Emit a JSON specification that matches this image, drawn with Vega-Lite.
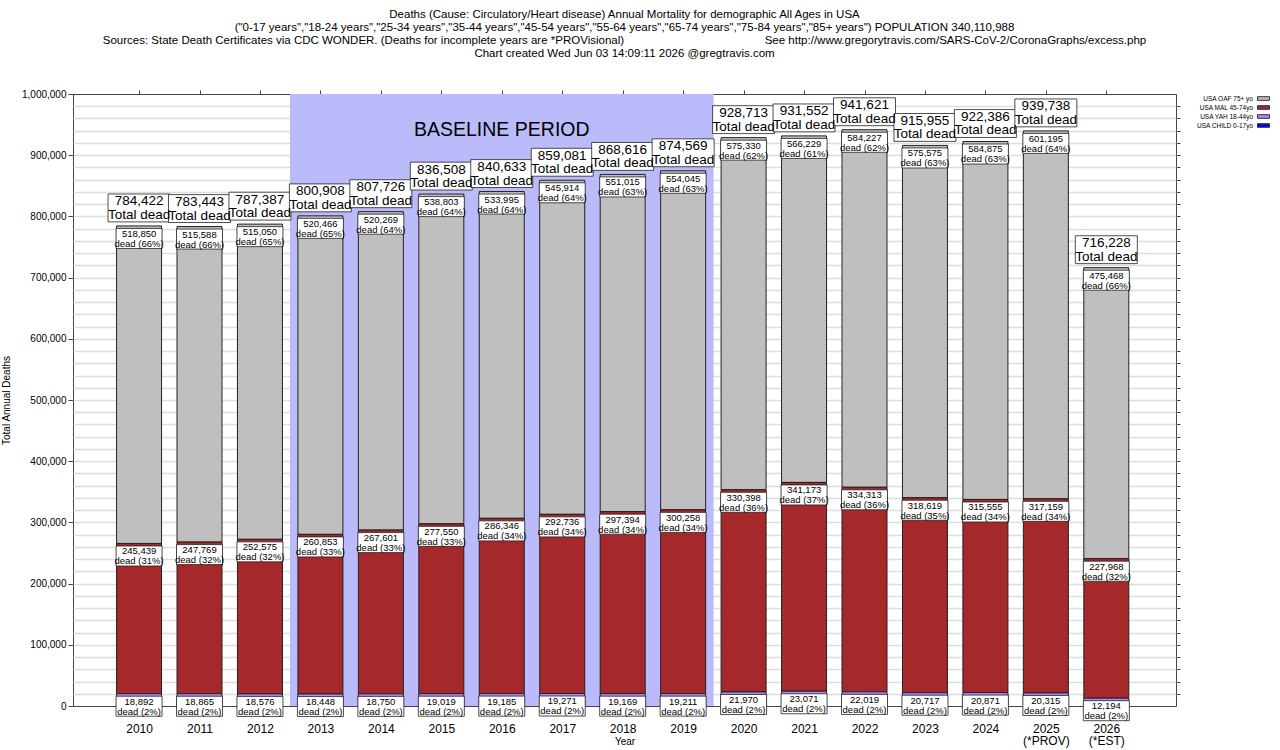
{
  "$schema": "https://vega.github.io/schema/vega-lite/v6.json",
  "width": 1103,
  "height": 612,
  "padding": {"left": 1, "top": 8, "right": 5, "bottom": 2},
  "config": {
    "font": "Liberation Sans",
    "view": {"stroke": "#444", "strokeWidth": 1},
    "axis": {"labelColor": "black", "titleColor": "black", "titleFontWeight": "normal", "domainColor": "#444", "tickColor": "#444"}
  },
  "title": {
    "text": [
      "Deaths (Cause: Circulatory/Heart disease) Annual Mortality for demographic All Ages in USA",
      "(\"0-17 years\",\"18-24 years\",\"25-34 years\",\"35-44 years\",\"45-54 years\",\"55-64 years\",\"65-74 years\",\"75-84 years\",\"85+ years\") POPULATION 340,110,988",
      "Sources: State Death Certificates via CDC WONDER. (Deaths for incomplete years are *PROVisional)\u00a0\u00a0\u00a0\u00a0\u00a0\u00a0\u00a0\u00a0\u00a0\u00a0\u00a0\u00a0\u00a0\u00a0\u00a0\u00a0\u00a0\u00a0\u00a0\u00a0\u00a0\u00a0\u00a0\u00a0\u00a0\u00a0\u00a0\u00a0\u00a0\u00a0\u00a0\u00a0\u00a0\u00a0\u00a0\u00a0\u00a0\u00a0\u00a0\u00a0\u00a0\u00a0\u00a0\u00a0See http://www.gregorytravis.com/SARS-CoV-2/CoronaGraphs/excess.php",
      "Chart created Wed Jun 03 14:09:11 2026 @gregtravis.com"
    ],
    "fontSize": 11.5,
    "fontWeight": "normal",
    "lineHeight": 13,
    "offset": 30,
    "color": "black"
  },
  "datasets": {
    "deaths": [
      {"year": 2010, "group": "USA OAF 75+ yo", "deaths": 518850, "pct": 66},
      {"year": 2010, "group": "USA MAL 45-74yo", "deaths": 245439, "pct": 31},
      {"year": 2010, "group": "USA YAH 18-44yo", "deaths": 18892, "pct": 2},
      {"year": 2010, "group": "USA CHILD 0-17yo", "deaths": 1241, "pct": 0},
      {"year": 2011, "group": "USA OAF 75+ yo", "deaths": 515588, "pct": 66},
      {"year": 2011, "group": "USA MAL 45-74yo", "deaths": 247769, "pct": 32},
      {"year": 2011, "group": "USA YAH 18-44yo", "deaths": 18865, "pct": 2},
      {"year": 2011, "group": "USA CHILD 0-17yo", "deaths": 1221, "pct": 0},
      {"year": 2012, "group": "USA OAF 75+ yo", "deaths": 515050, "pct": 65},
      {"year": 2012, "group": "USA MAL 45-74yo", "deaths": 252575, "pct": 32},
      {"year": 2012, "group": "USA YAH 18-44yo", "deaths": 18576, "pct": 2},
      {"year": 2012, "group": "USA CHILD 0-17yo", "deaths": 1186, "pct": 0},
      {"year": 2013, "group": "USA OAF 75+ yo", "deaths": 520466, "pct": 65},
      {"year": 2013, "group": "USA MAL 45-74yo", "deaths": 260853, "pct": 33},
      {"year": 2013, "group": "USA YAH 18-44yo", "deaths": 18448, "pct": 2},
      {"year": 2013, "group": "USA CHILD 0-17yo", "deaths": 1141, "pct": 0},
      {"year": 2014, "group": "USA OAF 75+ yo", "deaths": 520269, "pct": 64},
      {"year": 2014, "group": "USA MAL 45-74yo", "deaths": 267601, "pct": 33},
      {"year": 2014, "group": "USA YAH 18-44yo", "deaths": 18750, "pct": 2},
      {"year": 2014, "group": "USA CHILD 0-17yo", "deaths": 1106, "pct": 0},
      {"year": 2015, "group": "USA OAF 75+ yo", "deaths": 538803, "pct": 64},
      {"year": 2015, "group": "USA MAL 45-74yo", "deaths": 277550, "pct": 33},
      {"year": 2015, "group": "USA YAH 18-44yo", "deaths": 19019, "pct": 2},
      {"year": 2015, "group": "USA CHILD 0-17yo", "deaths": 1136, "pct": 0},
      {"year": 2016, "group": "USA OAF 75+ yo", "deaths": 533995, "pct": 64},
      {"year": 2016, "group": "USA MAL 45-74yo", "deaths": 286346, "pct": 34},
      {"year": 2016, "group": "USA YAH 18-44yo", "deaths": 19185, "pct": 2},
      {"year": 2016, "group": "USA CHILD 0-17yo", "deaths": 1107, "pct": 0},
      {"year": 2017, "group": "USA OAF 75+ yo", "deaths": 545914, "pct": 64},
      {"year": 2017, "group": "USA MAL 45-74yo", "deaths": 292736, "pct": 34},
      {"year": 2017, "group": "USA YAH 18-44yo", "deaths": 19271, "pct": 2},
      {"year": 2017, "group": "USA CHILD 0-17yo", "deaths": 1160, "pct": 0},
      {"year": 2018, "group": "USA OAF 75+ yo", "deaths": 551015, "pct": 63},
      {"year": 2018, "group": "USA MAL 45-74yo", "deaths": 297394, "pct": 34},
      {"year": 2018, "group": "USA YAH 18-44yo", "deaths": 19169, "pct": 2},
      {"year": 2018, "group": "USA CHILD 0-17yo", "deaths": 1038, "pct": 0},
      {"year": 2019, "group": "USA OAF 75+ yo", "deaths": 554045, "pct": 63},
      {"year": 2019, "group": "USA MAL 45-74yo", "deaths": 300258, "pct": 34},
      {"year": 2019, "group": "USA YAH 18-44yo", "deaths": 19211, "pct": 2},
      {"year": 2019, "group": "USA CHILD 0-17yo", "deaths": 1055, "pct": 0},
      {"year": 2020, "group": "USA OAF 75+ yo", "deaths": 575330, "pct": 62},
      {"year": 2020, "group": "USA MAL 45-74yo", "deaths": 330398, "pct": 36},
      {"year": 2020, "group": "USA YAH 18-44yo", "deaths": 21970, "pct": 2},
      {"year": 2020, "group": "USA CHILD 0-17yo", "deaths": 1015, "pct": 0},
      {"year": 2021, "group": "USA OAF 75+ yo", "deaths": 566229, "pct": 61},
      {"year": 2021, "group": "USA MAL 45-74yo", "deaths": 341173, "pct": 37},
      {"year": 2021, "group": "USA YAH 18-44yo", "deaths": 23071, "pct": 2},
      {"year": 2021, "group": "USA CHILD 0-17yo", "deaths": 1079, "pct": 0},
      {"year": 2022, "group": "USA OAF 75+ yo", "deaths": 584227, "pct": 62},
      {"year": 2022, "group": "USA MAL 45-74yo", "deaths": 334313, "pct": 36},
      {"year": 2022, "group": "USA YAH 18-44yo", "deaths": 22019, "pct": 2},
      {"year": 2022, "group": "USA CHILD 0-17yo", "deaths": 1062, "pct": 0},
      {"year": 2023, "group": "USA OAF 75+ yo", "deaths": 575575, "pct": 63},
      {"year": 2023, "group": "USA MAL 45-74yo", "deaths": 318619, "pct": 35},
      {"year": 2023, "group": "USA YAH 18-44yo", "deaths": 20717, "pct": 2},
      {"year": 2023, "group": "USA CHILD 0-17yo", "deaths": 1044, "pct": 0},
      {"year": 2024, "group": "USA OAF 75+ yo", "deaths": 584875, "pct": 63},
      {"year": 2024, "group": "USA MAL 45-74yo", "deaths": 315555, "pct": 34},
      {"year": 2024, "group": "USA YAH 18-44yo", "deaths": 20871, "pct": 2},
      {"year": 2024, "group": "USA CHILD 0-17yo", "deaths": 1085, "pct": 0},
      {"year": 2025, "group": "USA OAF 75+ yo", "deaths": 601195, "pct": 64},
      {"year": 2025, "group": "USA MAL 45-74yo", "deaths": 317159, "pct": 34},
      {"year": 2025, "group": "USA YAH 18-44yo", "deaths": 20315, "pct": 2},
      {"year": 2025, "group": "USA CHILD 0-17yo", "deaths": 1069, "pct": 0},
      {"year": 2026, "group": "USA OAF 75+ yo", "deaths": 475468, "pct": 66},
      {"year": 2026, "group": "USA MAL 45-74yo", "deaths": 227968, "pct": 32},
      {"year": 2026, "group": "USA YAH 18-44yo", "deaths": 12194, "pct": 2},
      {"year": 2026, "group": "USA CHILD 0-17yo", "deaths": 598, "pct": 0}
    ],
    "baseline": [
      {"start": 2013, "end": 2019, "label": "BASELINE PERIOD"}
    ]
  },
  "layer": [
    {
      "data": {"name": "baseline"},
      "mark": {"type": "rect", "color": "#bbbbfb", "xOffset": -30.5, "x2Offset": 30.5},
      "encoding": {
        "x": {
          "field": "start", "type": "quantitative",
          "scale": {"domain": [2008.99, 2027.07], "nice": false, "zero": false},
          "axis": {"orient": "top", "values": [2010, 2011, 2012, 2013, 2014, 2015, 2016, 2017, 2018, 2019, 2020, 2021, 2022, 2023, 2024, 2025, 2026], "labels": false, "title": null, "grid": false, "domain": false, "tickSize": 4}
        },
        "x2": {"field": "end"},
        "y": {
          "datum": 1000000, "type": "quantitative",
          "scale": {"domain": [0, 1000000], "nice": false},
          "axis": {"orient": "right", "values": [20000, 40000, 60000, 80000, 100000, 120000, 140000, 160000, 180000, 200000, 220000, 240000, 260000, 280000, 300000, 320000, 340000, 360000, 380000, 400000, 420000, 440000, 460000, 480000, 500000, 520000, 540000, 560000, 580000, 600000, 620000, 640000, 660000, 680000, 700000, 720000, 740000, 760000, 780000, 800000, 820000, 840000, 860000, 880000, 900000, 920000, 940000, 960000, 980000], "labels": false, "title": null, "grid": true, "gridColor": "#dddddd", "gridWidth": 1.5, "domain": false, "tickSize": 4}
        },
        "y2": {"datum": 0}
      }
    },
    {
      "data": {"name": "baseline"},
      "mark": {"type": "text", "fontSize": 19.5, "color": "black", "baseline": "middle"},
      "encoding": {
        "x": {"datum": 2016, "type": "quantitative", "axis": null},
        "y": {"datum": 941000, "type": "quantitative", "axis": null},
        "text": {"field": "label"}
      }
    },
    {
      "data": {"name": "deaths"},
      "transform": [
        {"calculate": "indexof(['USA CHILD 0-17yo', 'USA YAH 18-44yo', 'USA MAL 45-74yo', 'USA OAF 75+ yo'], datum.group)", "as": "rank"}
      ],
      "mark": {"type": "bar", "width": 45, "stroke": "#222", "strokeWidth": 1},
      "encoding": {
        "x": {
          "field": "year", "type": "quantitative", "title": "Year",
          "axis": {
            "orient": "bottom",
            "values": [2010, 2011, 2012, 2013, 2014, 2015, 2016, 2017, 2018, 2019, 2020, 2021, 2022, 2023, 2024, 2025, 2026],
            "format": "d",
            "labelExpr": "datum.value == 2025 ? ['2025', '(*PROV)'] : datum.value == 2026 ? ['2026', '(*EST)'] : datum.label",
            "labelFontSize": 12, "labelPadding": 17, "labelLineHeight": 12,
            "titleFontSize": 10, "titleY": 35, "titleBaseline": "middle",
            "grid": false, "tickSize": 0, "domain": false
          }
        },
        "y": {
          "field": "deaths", "type": "quantitative", "stack": "zero", "title": "Total Annual Deaths",
          "axis": {
            "orient": "left",
            "values": [0, 100000, 200000, 300000, 400000, 500000, 600000, 700000, 800000, 900000, 1000000],
            "format": ",.0f",
            "labelFontSize": 10, "titleFontSize": 10, "titlePadding": 10,
            "grid": false, "tickSize": 5, "domain": false
          }
        },
        "color": {
          "field": "group", "type": "nominal",
          "scale": {
            "domain": ["USA OAF 75+ yo", "USA MAL 45-74yo", "USA YAH 18-44yo", "USA CHILD 0-17yo"],
            "range": ["#bfbfbf", "#a5292a", "#b087f7", "#0000ff"]
          },
          "legend": {
            "orient": "none", "legendX": 1186, "legendY": 0, "title": null,
            "labelFontSize": 6.5, "labelColor": "black", "labelAlign": "right", "labelOffset": -15,
            "symbolType": "M-1.5,-0.45H1.5V0.45H-1.5Z", "symbolSize": 64,
            "symbolStrokeColor": "#333", "symbolStrokeWidth": 1, "symbolOpacity": 1,
            "rowPadding": -1, "padding": 0
          }
        },
        "order": {"field": "rank", "type": "quantitative"}
      }
    },
    {
      "data": {"name": "deaths"},
      "transform": [
        {"calculate": "indexof(['USA CHILD 0-17yo', 'USA YAH 18-44yo', 'USA MAL 45-74yo', 'USA OAF 75+ yo'], datum.group)", "as": "rank"},
        {"stack": "deaths", "groupby": ["year"], "sort": [{"field": "rank", "order": "ascending"}], "as": ["lo", "hi"]},
        {"filter": "datum.group != 'USA CHILD 0-17yo'"}
      ],
      "mark": {"type": "point", "shape": "M-1,0.11H1V0.98H-1Z", "size": 2116, "filled": true, "fill": "white", "stroke": "#222", "strokeWidth": 0.8, "opacity": 1},
      "encoding": {
        "x": {"field": "year", "type": "quantitative", "axis": null},
        "y": {"field": "hi", "type": "quantitative", "axis": null}
      }
    },
    {
      "data": {"name": "deaths"},
      "transform": [
        {"calculate": "indexof(['USA CHILD 0-17yo', 'USA YAH 18-44yo', 'USA MAL 45-74yo', 'USA OAF 75+ yo'], datum.group)", "as": "rank"},
        {"stack": "deaths", "groupby": ["year"], "sort": [{"field": "rank", "order": "ascending"}], "as": ["lo", "hi"]},
        {"filter": "datum.group != 'USA CHILD 0-17yo'"},
        {"calculate": "[format(datum.deaths, ','), 'dead (' + datum.pct + '%)']", "as": "txt"}
      ],
      "mark": {"type": "text", "fontSize": 9.5, "lineHeight": 10, "baseline": "middle", "dy": 8, "color": "black"},
      "encoding": {
        "x": {"field": "year", "type": "quantitative", "axis": null},
        "y": {"field": "hi", "type": "quantitative", "axis": null},
        "text": {"field": "txt"}
      }
    },
    {
      "data": {"name": "deaths"},
      "transform": [
        {"aggregate": [{"op": "sum", "field": "deaths", "as": "total"}], "groupby": ["year"]}
      ],
      "mark": {"type": "point", "shape": "M-1,-1.03H1V-0.13H-1Z", "size": 3844, "filled": true, "fill": "white", "stroke": "#222", "strokeWidth": 0.8, "opacity": 1},
      "encoding": {
        "x": {"field": "year", "type": "quantitative", "axis": null},
        "y": {"field": "total", "type": "quantitative", "axis": null}
      }
    },
    {
      "data": {"name": "deaths"},
      "transform": [
        {"aggregate": [{"op": "sum", "field": "deaths", "as": "total"}], "groupby": ["year"]},
        {"calculate": "[format(datum.total, ','), 'Total dead']", "as": "txt"}
      ],
      "mark": {"type": "text", "fontSize": 13.5, "lineHeight": 13.5, "baseline": "middle", "dy": -24.5, "color": "black"},
      "encoding": {
        "x": {"field": "year", "type": "quantitative", "axis": null},
        "y": {"field": "total", "type": "quantitative", "axis": null},
        "text": {"field": "txt"}
      }
    }
  ],
  "resolve": {"axis": {"x": "independent", "y": "independent"}}
}
